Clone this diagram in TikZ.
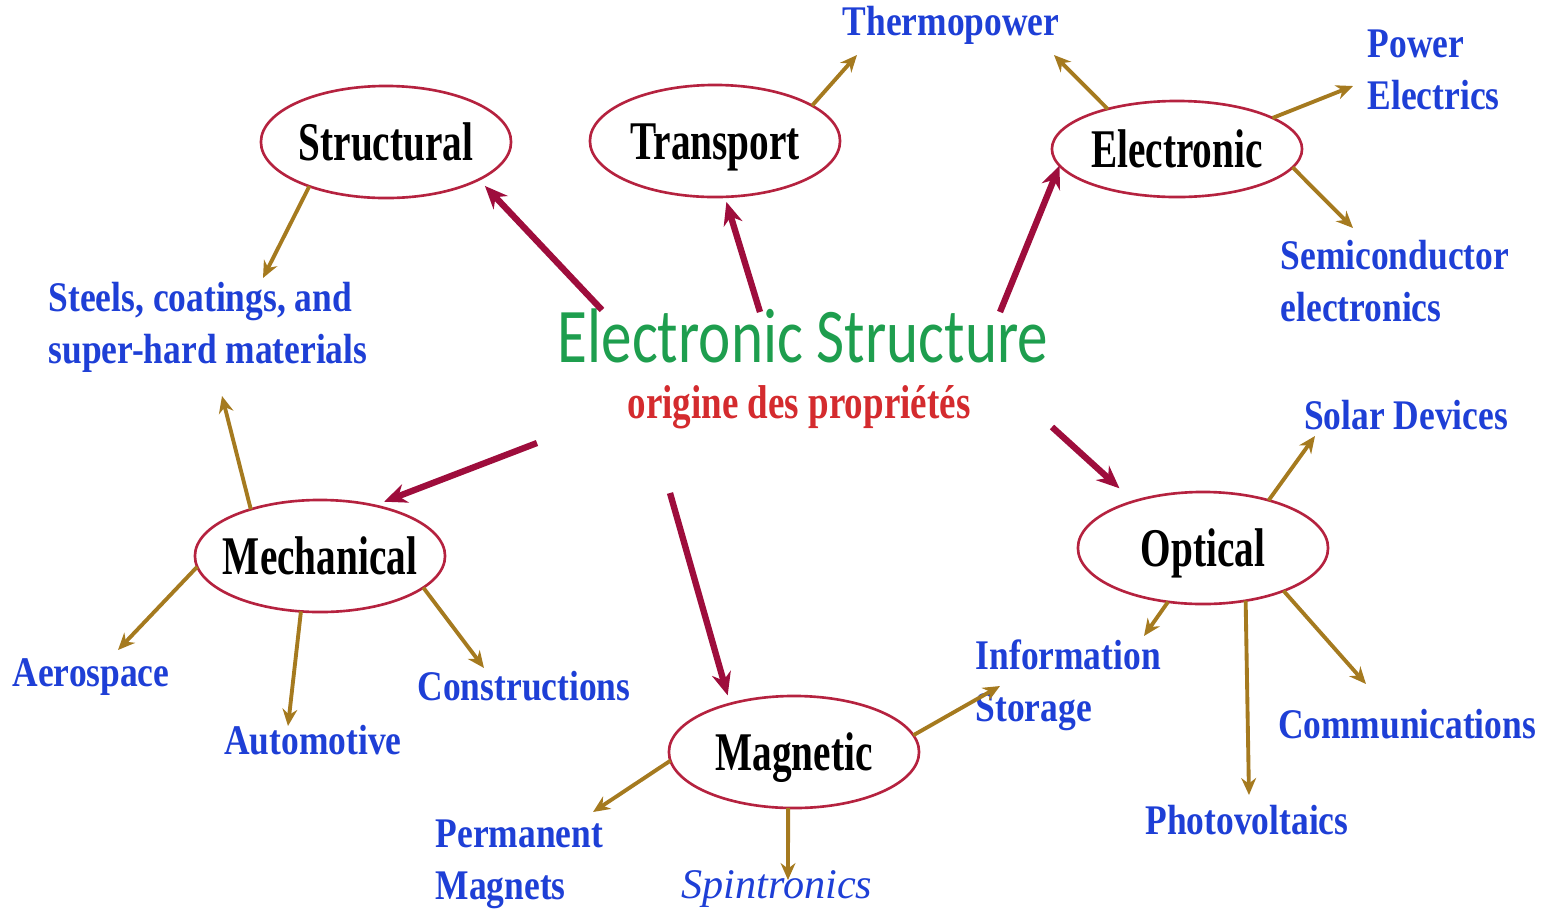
\documentclass[tikz,border=0pt]{standalone}
\usepackage{fontspec}
\setmainfont{Liberation Serif}
\newfontfamily\labelserif[FakeStretch=0.84]{Liberation Serif}
\newfontfamily\propserif[FakeStretch=0.72]{Liberation Serif}
\newfontfamily\subserif[FakeStretch=0.78]{Liberation Serif}
\newfontfamily\titlesans[FakeStretch=0.79]{Carlito}
\usetikzlibrary{arrows.meta,shapes.geometric}

\definecolor{ringred}{HTML}{B5223F}
\definecolor{arrowred}{HTML}{9E0D3C}
\definecolor{arrowbrown}{HTML}{A57A1F}
\definecolor{labelblue}{HTML}{1E3FD6}
\definecolor{titlegreen}{HTML}{1E9E4E}
\definecolor{subred}{HTML}{D42B2E}

\begin{document}
\begin{tikzpicture}[x=0.01cm, y=-0.01cm,
    prop/.style={ellipse, draw=ringred, line width=0.75pt, minimum width=2.5cm,
        minimum height=1.12cm, inner xsep=-3mm, inner ysep=0pt, outer sep=0pt,
        text height=10.3pt, text depth=0pt,
        font=\propserif\bfseries\fontsize{15.5}{18}\selectfont},
    appl/.style={text=labelblue, inner sep=0pt,
        font=\labelserif\bfseries\fontsize{12}{14.8}\selectfont},
    toprop/.style={draw=arrowred, line width=1.8pt, -{Stealth[length=6.5pt,width=5.5pt]}},
    toappl/.style={draw=arrowbrown, line width=1.1pt, -{Stealth[length=4.8pt,width=4.2pt]}}]
    \useasboundingbox (0,0) rectangle (1547,914);

    % Centre
    \node[text=titlegreen, inner sep=0pt, font=\titlesans\fontsize{22}{26}\selectfont] (title) at (803,336) {Electronic Structure};
    \node[text=subred, inner sep=0pt, font=\subserif\bfseries\fontsize{13.5}{16}\selectfont] (origin) at (799,407) {origine des propriétés};

    % Properties
    \node[prop] (structural) at (386,142) {Structural};
    \node[prop] (transport) at (715,141) {Transport};
    \node[prop, minimum height=0.96cm] (electronic) at (1177,149) {Electronic};
    \node[prop] (mechanical) at (320,556) {Mechanical};
    \node[prop] (optical) at (1203,548) {Optical};
    \node[prop] (magnetic) at (794,752) {Magnetic};

    % Applications
    \node[appl] (thermo) at (951,25) {Thermopower};
    \node[appl, anchor=west, align=left] (power) at (1367,70) {Power\\Electrics};
    \node[appl, anchor=west, align=left] (semi) at (1280,281) {Semiconductor\\electronics};
    \node[appl, anchor=west, align=left] (steels) at (48,327) {Steels, coatings, and\\super-hard materials};
    \node[appl] (solar) at (1406,415) {Solar Devices};
    \node[appl] (aero) at (91,677) {Aerospace};
    \node[appl] (auto) at (313,740) {Automotive};
    \node[appl] (constr) at (524,686) {Constructions};
    \node[appl, anchor=west, align=left] (info) at (975,685) {Information\\Storage};
    \node[appl] (comm) at (1407,724) {Communications};
    \node[appl] (photo) at (1247,820) {Photovoltaics};
    \node[appl, anchor=west, align=left] (perm) at (435,864) {Permanent\\Magnets};
    \node[appl, font=\rmfamily\itshape\fontsize{12}{14.8}\selectfont] (spin) at (777,889) {Spintronics};

    % Red arrows from the centre
    \coordinate (fromS) at (602,310);
    \coordinate (fromT) at (760,312);
    \coordinate (fromE) at (1000,312);
    \coordinate (fromM) at (537,443);
    \coordinate (fromG) at (670,493);
    \coordinate (fromO) at (1052,427);
    \draw[toprop, shorten >=2.5pt] (fromS) -- (structural.338);
    \draw[toprop, shorten >=1.5pt] (fromT) -- (transport.280);
    \draw[toprop] (fromE) -- (electronic.188);
    \draw[toprop, shorten >=3pt] (fromM) -- (mechanical.43);
    \draw[toprop, shorten >=2.5pt] (fromG) -- (magnetic.143);
    \draw[toprop, shorten >=5.5pt] (fromO) -- (optical.146);

    % Brown arrows to the applications
    \coordinate (steelsA) at (263,278);
    \coordinate (steelsB) at (222,396);
    \coordinate (thermoA) at (857,55);
    \coordinate (thermoB) at (1054,55);
    \coordinate (powerT) at (1353,86);
    \coordinate (semiT) at (1353,228);
    \coordinate (aeroT) at (118,650);
    \coordinate (autoT) at (288,726);
    \coordinate (constrT) at (484,668);
    \coordinate (permT) at (593,812);
    \coordinate (spinT) at (788,880);
    \coordinate (infoA) at (1000,686);
    \coordinate (infoB) at (1144,636);
    \coordinate (solarT) at (1315,436);
    \coordinate (photoT) at (1249,795);
    \coordinate (commT) at (1366,684);
    \draw[toappl] (structural.210) -- (steelsA);
    \draw[toappl] (transport.20) -- (thermoA);
    \draw[toappl] (electronic.150) -- (thermoB);
    \draw[toappl] (electronic.18) -- (powerT);
    \draw[toappl] (electronic.351) -- (semiT);
    \draw[toappl] (mechanical.146) -- (steelsB);
    \draw[toappl] (mechanical.185) -- (aeroT);
    \draw[toappl] (mechanical.251) -- (autoT);
    \draw[toappl] (mechanical.343) -- (constrT);
    \draw[toappl] (magnetic.184) -- (permT);
    \draw[toappl] (magnetic.264) -- (spinT);
    \draw[toappl] (magnetic.8) -- (infoA);
    \draw[toappl] (optical.237) -- (infoB);
    \draw[toappl] (optical.36) -- (solarT);
    \draw[toappl] (optical.309) -- (photoT);
    \draw[toappl] (optical.332) -- (commT);
\end{tikzpicture}
\end{document}
